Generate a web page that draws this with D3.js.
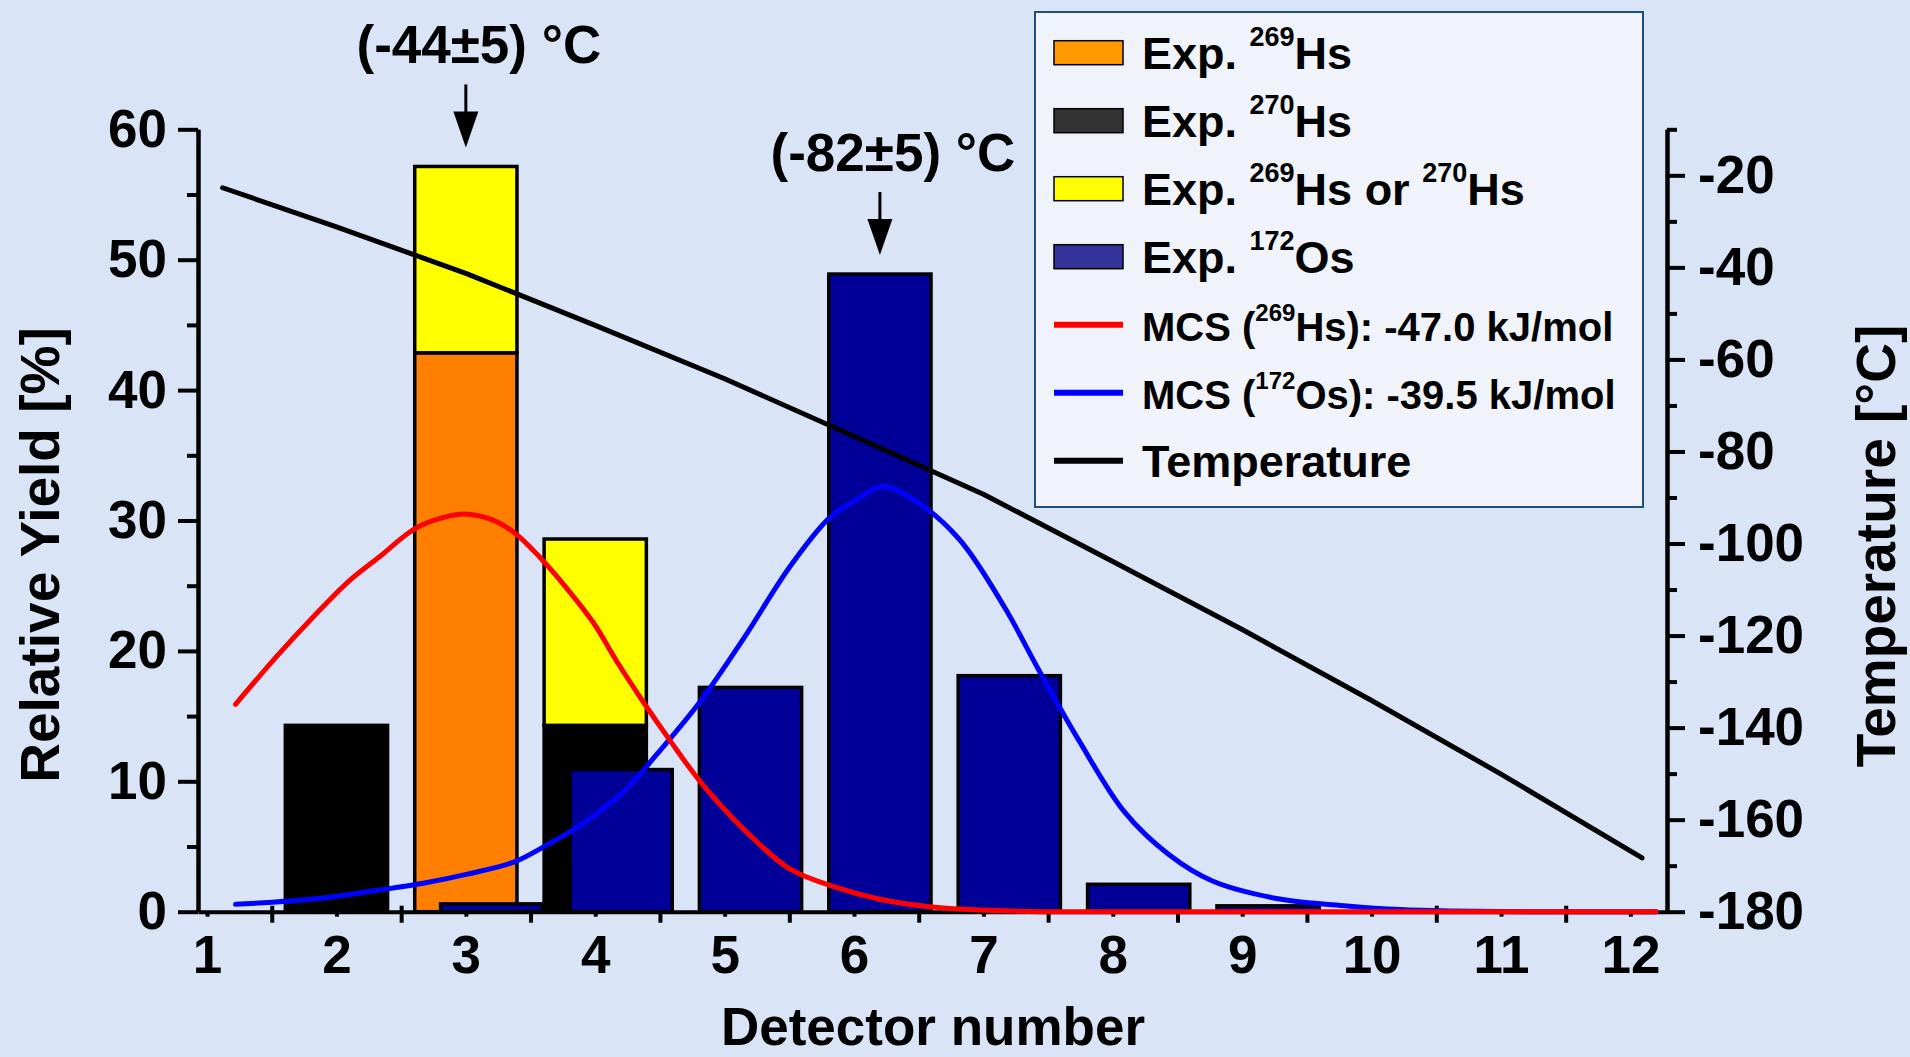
<!DOCTYPE html>
<html>
<head>
<meta charset="utf-8">
<script src="https://cdn.jsdelivr.net/npm/d3@7/dist/d3.min.js"></script>
<style>
  body { margin: 0; background: #D9E4F6; }
  svg text { font-family: "Liberation Sans", Arial, sans-serif; font-weight: bold; fill: #000; }
  .axis .domain, .axis line { stroke: #000; stroke-width: 4; }
  .axis text { font-size: 53px; }
</style>
</head>
<body>
<div id="chart"></div>
<script>
// detector positions (x categories)
var detectors = [1, 2, 3, 4, 5, 6, 7, 8, 9, 10, 11, 12];

// relative yield [%] per detector
var hs269    = [0, 0, 42.86, 0, 0, 0, 0, 0, 0, 0, 0, 0];
var hs270    = [0, 14.29, 0, 14.29, 0, 0, 0, 0, 0, 0, 0, 0];
var hsEither = [0, 0, 14.29, 14.29, 0, 0, 0, 0, 0, 0, 0, 0];
var os172    = [0, 0, 0.6, 10.9, 17.2, 48.9, 18.1, 2.1, 0.45, 0, 0, 0];

// Monte Carlo simulation curves [detector, yield %]
var mcsHs = [[1.22, 15.9], [1.54, 19.6], [1.82, 22.6], [2.09, 25.3], [2.33, 27.2], [2.61, 29.4],
  [2.85, 30.3], [2.99, 30.5], [3.19, 30.1], [3.37, 29.1], [3.57, 27.2], [3.78, 24.8], [3.99, 22.1],
  [4.16, 19.3], [4.37, 16.1], [4.58, 13.1], [4.81, 10.0], [5.15, 6.3], [5.5, 3.3], [5.85, 1.9],
  [6.19, 0.97], [6.6, 0.36], [7.22, 0.05], [8, 0], [12.2, 0]];
var mcsOs = [[1.22, 0.57], [1.82, 0.97], [2.33, 1.66], [2.68, 2.2], [3.02, 2.9], [3.37, 3.8],
  [3.64, 5.2], [3.88, 6.6], [4.23, 9.3], [4.47, 12.0], [4.81, 16.1], [5.15, 21.0], [5.5, 26.4],
  [5.81, 30.2], [6.02, 31.6], [6.22, 32.6], [6.46, 31.6], [6.81, 28.6], [7.16, 23.4], [7.43, 18.5],
  [7.74, 13.1], [8.09, 7.65], [8.43, 4.4], [8.77, 2.35], [9.29, 0.97], [9.81, 0.44], [10.22, 0.16],
  [10.6, 0.05], [11.2, 0], [12.2, 0]];

// temperature profile [detector, °C]
var temperature = [[1.12, -22.7], [2, -31.2], [3, -41.3], [4, -52.6], [5, -64.2], [6, -76.7],
  [7, -89.3], [8, -103.9], [9, -118.7], [10, -134.1], [11, -150.1], [12.09, -168.3]];

// ticks
var xMajorTicks = [1.5, 2.5, 3.5, 4.5, 5.5, 6.5, 7.5, 8.5, 9.5, 10.5, 11.5];
var yTicks = [0, 10, 20, 30, 40, 50, 60];
var yMinorTicks = [5, 15, 25, 35, 45, 55];
var tTicks = [-20, -40, -60, -80, -100, -120, -140, -160, -180];
var tMinorTicks = [-10, -30, -50, -70, -90, -110, -130, -150, -170];

var peakLabels = ['(-44\u00B15) \u00B0C', '(-82\u00B15) \u00B0C'];

var legendItems = [
  {type: 'rect', color: '#FF9900', size: 45, parts: [['Exp. '], ['269', 1], ['Hs']]},
  {type: 'rect', color: '#333333', size: 45, parts: [['Exp. '], ['270', 1], ['Hs']]},
  {type: 'rect', color: '#FFFF00', size: 45, parts: [['Exp. '], ['269', 1], ['Hs or '], ['270', 1], ['Hs']]},
  {type: 'rect', color: '#333399', size: 45, parts: [['Exp. '], ['172', 1], ['Os']]},
  {type: 'line', color: '#FF0000', size: 40, parts: [['MCS ('], ['269', 1], ['Hs): -47.0 kJ/mol']]},
  {type: 'line', color: '#0000FF', size: 40, parts: [['MCS ('], ['172', 1], ['Os): -39.5 kJ/mol']]},
  {type: 'line', color: '#000000', size: 45, parts: [['Temperature']]}
];

var W = 1910, H = 1057;
var barW = 0.79, osShift = 0.2;

var x = d3.scaleLinear().domain([0.93, 12.283]).range([198, 1667]);
var y = d3.scaleLinear().domain([0, 60]).range([911.7, 129.3]);
var yT = d3.scaleLinear().domain([-180, -10]).range([911.7, 129.3]);

var svg = d3.select('#chart').append('svg')
    .attr('width', W)
    .attr('height', H);

svg.append('rect').attr('width', W).attr('height', H).attr('fill', '#D9E4F6');

// axes
function styleAxis (g) {
    g.attr('class', 'axis').attr('font-size', null).attr('font-family', null);
}

svg.append('g')
    .attr('transform', 'translate(0,' + y(0) + ')')
    .call(d3.axisBottom(x).tickValues(xMajorTicks).tickSize(11).tickSizeOuter(0).tickFormat(''))
    .call(styleAxis)
    .selectAll('.tick line').attr('y1', -6);

svg.append('g')
    .attr('transform', 'translate(0,' + y(0) + ')')
    .call(d3.axisBottom(x).tickValues(detectors).tickSize(5).tickPadding(19).tickSizeOuter(0))
    .call(styleAxis)
    .call(function (g) { g.select('.domain').remove(); });

svg.append('g')
    .attr('transform', 'translate(' + x.range()[0] + ',0)')
    .call(d3.axisLeft(y).tickValues(yTicks).tickSize(20).tickPadding(11).tickSizeOuter(0))
    .call(styleAxis);

svg.append('g')
    .attr('transform', 'translate(' + x.range()[0] + ',0)')
    .call(d3.axisLeft(y).tickValues(yMinorTicks).tickSize(11).tickSizeOuter(0).tickFormat(''))
    .call(styleAxis);

svg.append('g')
    .attr('transform', 'translate(' + x.range()[1] + ',0)')
    .call(d3.axisRight(yT).tickValues(tTicks).tickSize(18).tickPadding(13).tickSizeOuter(0)
        .tickFormat(function (d) { return String(d); }))
    .call(styleAxis);

svg.append('g')
    .attr('transform', 'translate(' + x.range()[1] + ',0)')
    .call(d3.axisRight(yT).tickValues(tMinorTicks).tickSize(10).tickSizeOuter(0).tickFormat(''))
    .call(styleAxis);

// stacked Hs bars
var hsRows = detectors.map(function (d, i) {
    return {det: d, hs269: hs269[i], hs270: hs270[i], either: hsEither[i]};
});
var hsKeys = ['hs269', 'hs270', 'either'];
var hsColors = {hs269: '#FF8000', hs270: '#000000', either: '#FFFF00'};
var stacked = d3.stack().keys(hsKeys)(hsRows);

stacked.forEach(function (layer) {
    svg.append('g').selectAll('rect')
        .data(layer.filter(function (s) { return s[1] - s[0] > 0; }))
        .join('rect')
        .attr('x', function (s) { return x(s.data.det - barW / 2); })
        .attr('width', x(1 + barW) - x(1))
        .attr('y', function (s) { return y(s[1]); })
        .attr('height', function (s) { return y(s[0]) - y(s[1]); })
        .attr('fill', hsColors[layer.key])
        .attr('stroke', '#000')
        .attr('stroke-width', 3.5);
});

// Os bars, shifted right
svg.append('g').selectAll('rect')
    .data(detectors.map(function (d, i) { return {det: d, v: os172[i]}; })
        .filter(function (o) { return o.v > 0; }))
    .join('rect')
    .attr('x', function (o) { return x(o.det + osShift - barW / 2); })
    .attr('width', x(1 + barW) - x(1))
    .attr('y', function (o) { return y(o.v); })
    .attr('height', function (o) { return y(0) - y(o.v); })
    .attr('fill', '#000099')
    .attr('stroke', '#000')
    .attr('stroke-width', 3.5);

// curves
var curveLine = d3.line()
    .x(function (p) { return x(p[0]); })
    .y(function (p) { return y(p[1]); })
    .curve(d3.curveCatmullRom.alpha(0.5));

svg.append('path').datum(mcsOs).attr('d', curveLine)
    .attr('fill', 'none').attr('stroke', '#0000FF').attr('stroke-width', 5).attr('stroke-linecap', 'round');
svg.append('path').datum(mcsHs).attr('d', curveLine)
    .attr('fill', 'none').attr('stroke', '#FF0000').attr('stroke-width', 5).attr('stroke-linecap', 'round');

var tempLine = d3.line()
    .x(function (p) { return x(p[0]); })
    .y(function (p) { return yT(p[1]); });

svg.append('path').datum(temperature).attr('d', tempLine)
    .attr('fill', 'none').attr('stroke', '#000').attr('stroke-width', 5)
    .attr('stroke-linecap', 'round').attr('stroke-linejoin', 'round');

// peak annotations with arrows
var hsTotal = detectors.map(function (d, i) { return hs269[i] + hs270[i] + hsEither[i]; });
var peaks = [
    {px: x(3), top: y(hsTotal[2]), label: peakLabels[0]},
    {px: x(6 + osShift), top: y(os172[5]), label: peakLabels[1]}
];
peaks.forEach(function (p) {
    var tip = p.top - 19;
    svg.append('line')
        .attr('x1', p.px).attr('x2', p.px)
        .attr('y1', tip - 63).attr('y2', tip - 30)
        .attr('stroke', '#000').attr('stroke-width', 3);
    svg.append('path')
        .attr('d', 'M' + (p.px - 12.5) + ',' + (tip - 36) + 'L' + (p.px + 12.5) + ',' + (tip - 36) +
            'L' + p.px + ',' + tip + 'Z')
        .attr('fill', '#000');
    svg.append('text')
        .attr('x', p.px + 13)
        .attr('y', tip - 84)
        .attr('text-anchor', 'middle')
        .style('font-size', '53px')
        .text(p.label);
});

// axis titles
svg.append('text')
    .attr('transform', 'translate(59,555) rotate(-90)')
    .attr('text-anchor', 'middle')
    .style('font-size', '55px')
    .text('Relative Yield [%]');

svg.append('text')
    .attr('transform', 'translate(1895,546) rotate(-90)')
    .attr('text-anchor', 'middle')
    .style('font-size', '55px')
    .text('Temperature [\u00B0C]');

svg.append('text')
    .attr('x', 933)
    .attr('y', 1045)
    .attr('text-anchor', 'middle')
    .style('font-size', '53px')
    .text('Detector number');

// legend
var legend = svg.append('g');
legend.append('rect')
    .attr('x', 1035).attr('y', 12)
    .attr('width', 608).attr('height', 495)
    .attr('fill', '#F0F3FA')
    .attr('stroke', '#1F4E79')
    .attr('stroke-width', 2);

legendItems.forEach(function (item, i) {
    var cy = 52.7 + i * 68;
    if (item.type === 'rect') {
        legend.append('rect')
            .attr('x', 1054).attr('y', cy - 12)
            .attr('width', 69).attr('height', 24)
            .attr('fill', item.color)
            .attr('stroke', '#000')
            .attr('stroke-width', 1.5);
    } else {
        legend.append('line')
            .attr('x1', 1054).attr('x2', 1123)
            .attr('y1', cy).attr('y2', cy)
            .attr('stroke', item.color)
            .attr('stroke-width', 6);
    }
    var t = legend.append('text')
        .attr('x', 1142)
        .attr('y', cy + 16)
        .style('font-size', item.size + 'px');
    var raised = false;
    item.parts.forEach(function (part) {
        var ts = t.append('tspan').text(part[0]);
        var shift = item.size * 0.5;
        if (part[1]) {
            ts.style('font-size', Math.round(item.size * 0.6) + 'px').attr('dy', -shift);
            raised = true;
        } else if (raised) {
            ts.attr('dy', shift);
            raised = false;
        }
    });
});
</script>
</body>
</html>
